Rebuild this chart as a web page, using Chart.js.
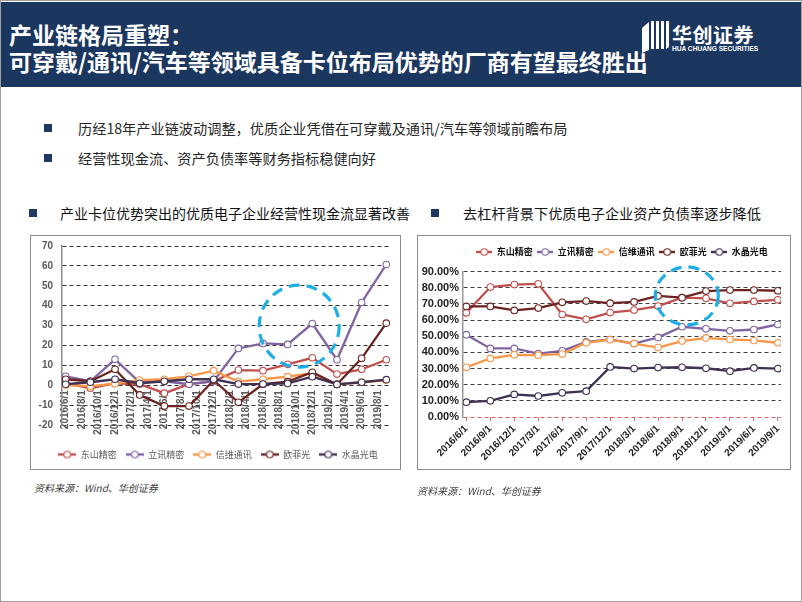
<!DOCTYPE html>
<html><head><meta charset="utf-8">
<script src="https://cdn.jsdelivr.net/npm/chart.js@4.4.1/dist/chart.umd.min.js"></script>
<style>
html,body{margin:0;padding:0;}
body{width:802px;height:602px;position:relative;overflow:hidden;background:#fff;font-family:"Noto Sans CJK SC","Liberation Sans",sans-serif;}
#frame{position:absolute;left:0;top:0;width:800px;height:600px;border:1px solid #a0a0a0;}
#hdr{position:absolute;left:1px;top:2px;width:800px;height:85px;background:#1c375f;}
.ht{position:absolute;left:9px;color:#fff;font-weight:700;font-size:23px;line-height:27px;white-space:nowrap;}
.abs{position:absolute;white-space:nowrap;}
.sq{position:absolute;width:8px;height:8px;background:#1f3864;}
.btxt{position:absolute;left:78px;font-size:14.2px;line-height:20px;color:#262626;white-space:nowrap;}
.ctitle{position:absolute;font-size:14px;line-height:20px;color:#111;white-space:nowrap;}
.box{position:absolute;border:1.5px solid #8c8c8c;box-sizing:border-box;pointer-events:none;}
.src{position:absolute;font-size:10px;line-height:14px;font-style:italic;color:#404040;white-space:nowrap;}
canvas{position:absolute;}
</style></head>
<body>
<div id="frame"></div>
<div id="hdr"></div>
<div class="ht" style="top:21px">产业链格局重塑：</div>
<div class="ht" style="top:48px">可穿戴/通讯/汽车等领域具备卡位布局优势的厂商有望最终胜出</div>
<svg class="abs" style="left:640px;top:20px" width="30" height="34" viewBox="0 0 30 34">
  <g fill="#fff">
    <polygon points="2,8 9,2 9,30 2,33"/>
    <polygon points="11,1 14,1 14,29 11,29"/>
    <polygon points="16,1 19,1 19,29 16,29"/>
    <polygon points="21,1 24,1 24,29 21,29"/>
    <polygon points="26,1 29,1 29,27 26,29"/>
  </g>
</svg>
<div class="abs" style="left:672px;top:23px;color:#fff;font-weight:700;font-size:20px;line-height:24px;letter-spacing:0.5px">华创证券</div>
<div class="abs" style="left:672px;top:45px;color:#fff;font-size:6.6px;line-height:8px;font-family:'Liberation Sans',sans-serif;font-weight:700">HUA CHUANG SECURITIES</div>

<div class="sq" style="left:44px;top:124px"></div>
<div class="btxt" style="top:118px">历经18年产业链波动调整，优质企业凭借在可穿戴及通讯/汽车等领域前瞻布局</div>
<div class="sq" style="left:44px;top:154px"></div>
<div class="btxt" style="top:148px">经营性现金流、资产负债率等财务指标稳健向好</div>

<div class="sq" style="left:29px;top:209px"></div>
<div class="ctitle" style="left:60px;top:203px">产业卡位优势突出的优质电子企业经营性现金流显著改善</div>
<div class="sq" style="left:431px;top:209px"></div>
<div class="ctitle" style="left:463px;top:203px;font-size:14.2px">去杠杆背景下优质电子企业资产负债率逐步降低</div>

<canvas id="c1" width="372" height="232" style="left:32px;top:237px"></canvas>
<div class="box" style="left:30px;top:235px;width:371px;height:235px"></div>
<canvas id="c2" width="370" height="232" style="left:419px;top:237px"></canvas>
<div class="box" style="left:417px;top:235px;width:374px;height:235px"></div>

<div class="src" style="left:34px;top:481px">资料来源：Wind、华创证券</div>
<div class="src" style="left:417px;top:484px">资料来源：Wind、华创证券</div>

<script>
// ---------- data ----------
const seriesNames = ['东山精密', '立讯精密', '信维通讯', '欧菲光', '水晶光电'];
const seriesColors = ['#c0504d', '#8064a2', '#f79646', '#6b2220', '#3f3152'];
const quarterDates = ['2016/6/1','2016/9/1','2016/12/1','2017/3/1','2017/6/1','2017/9/1','2017/12/1',
  '2018/3/1','2018/6/1','2018/9/1','2018/12/1','2019/3/1','2019/6/1','2019/9/1'];

// left chart: operating cash flow
const cfTickLabels = ['2016/6/1','2016/8/1','2016/10/1','2016/12/1','2017/2/1','2017/4/1','2017/6/1',
  '2017/8/1','2017/10/1','2017/12/1','2018/2/1','2018/4/1','2018/6/1','2018/8/1','2018/10/1',
  '2018/12/1','2019/2/1','2019/4/1','2019/6/1','2019/8/1'];
const cfDongshan = [1, -1.5, 1, 0.5, -4, 0.5, 2, 7.6, 7.3, 10.5, 13.8, 5.6, 8, 12.8];
const cfLuxshare = [4.5, 2, 13, 1.5, 2, 0.5, 2, 18.5, 21, 20.5, 31, 12.8, 41.6, 60.7];
const cfSunway = [0, -0.5, 0.8, 2.6, 3, 4.5, 7.3, 1.8, 3, 4.3, 6, 0.5, 1.5, 2.5];
const cfOfilm = [3, 2, 8, -4.9, -10.5, -10.5, 2.5, -8.6, 0.5, 1.8, 6.5, 0.4, 13.5, 31.2];
const cfCrystal = [0.5, 1.5, 3, 1, 2, 3, 3, 0.6, 0.6, 0.9, 4.3, 0.4, 1.5, 2.8];
const cfYTicks = {min: -20, max: 70, step: 10};

// right chart: debt-to-asset ratio (%)
const drDongshan = [64.5, 80.5, 82, 82.5, 63.5, 60.5, 64.7, 66.2, 68.7, 73.9, 73.5, 70.4, 71.6, 72.6];
const drLuxshare = [51, 42.5, 42.5, 39.3, 41, 46.5, 48, 45.5, 49.3, 55.9, 54.6, 53.4, 54.2, 57.3];
const drSunway = [30.8, 36.3, 38.5, 38.3, 39, 46, 47.9, 45.5, 43, 47, 49, 48, 47.4, 46];
const drOfilm = [68.5, 68.5, 66, 67.5, 71, 71.8, 70.5, 71.3, 75, 73.9, 78, 78.6, 78.6, 78.2];
const drCrystal = [9.2, 10, 14, 13, 15, 16, 31, 30, 30.6, 30.8, 30.2, 28.4, 30.4, 30];
const drYTicks = {min: 0, max: 90, step: 10};

// ---------- helpers ----------
function monthIndex(s) { const p = s.split('/').map(Number); return (p[0] - 2016) * 12 + (p[1] - 6); }
function marker(color, w) {
  const c = document.createElement('canvas'); c.width = w; c.height = 10;
  const g = c.getContext('2d');
  g.strokeStyle = color; g.lineWidth = 2.4;
  g.beginPath(); g.moveTo(0, 5); g.lineTo(w, 5); g.stroke();
  g.beginPath(); g.arc(w / 2, 5, 3.3, 0, Math.PI * 2); g.fillStyle = '#fff'; g.fill();
  g.lineWidth = 1.1; g.stroke();
  return c;
}
const ringPlugin = {
  id: 'ring',
  afterDatasetsDraw(chart, args, o) {
    if (!o || o.cx === undefined) return;
    const {ctx, scales} = chart;
    const px = scales.x.getPixelForValue(o.cx), py = scales.y.getPixelForValue(o.cy);
    ctx.save(); ctx.strokeStyle = '#1eaee6'; ctx.lineWidth = 3.2; ctx.setLineDash([11, 7]);
    ctx.beginPath(); ctx.ellipse(px, py, o.rx, o.ry, 0, 0, Math.PI * 2); ctx.stroke(); ctx.restore();
  }
};
const legendGap = {
  id: 'legendGap',
  afterInit(chart, a, o) {
    const lg = chart.legend; if (!lg) return;
    const f = lg.fit;
    lg.fit = function () { f.call(this); this.height += (o && o.extra) || 0; };
  }
};
function makeDatasets(arrs, xs) {
  return arrs.map((arr, i) => ({
    label: seriesNames[i],
    data: arr.map((v, k) => ({x: xs[k], y: v})),
    xAxisID: 'x', yAxisID: 'y',
    borderColor: seriesColors[i], backgroundColor: '#fff',
    borderWidth: 2.3, pointRadius: 3.3, pointBorderWidth: 1.1,
    pointBackgroundColor: '#fff', pointBorderColor: seriesColors[i],
    tension: 0, order: -i
  }));
}
function legendLabels(w, color) {
  return chart => chart.data.datasets.map((ds, i) => ({
    text: ds.label, pointStyle: marker(seriesColors[i], w), fillStyle: '#fff',
    strokeStyle: seriesColors[i], lineWidth: 0, hidden: false, datasetIndex: i, fontColor: color
  }));
}
Chart.defaults.font.family = '"Liberation Sans", "Noto Sans CJK SC", sans-serif';

// ---------- left chart ----------
const cfX = quarterDates.map(monthIndex);
const cfTickMap = {};
cfTickLabels.forEach(l => { cfTickMap[monthIndex(l)] = l; });
new Chart(document.getElementById('c1'), {
  type: 'line',
  data: {datasets: makeDatasets([cfDongshan, cfLuxshare, cfSunway, cfOfilm, cfCrystal], cfX)},
  plugins: [ringPlugin],
  options: {
    responsive: false, animation: false, devicePixelRatio: 1,
    layout: {padding: {left: 0, right: 0, top: 9, bottom: 0}},
    plugins: {
      tooltip: {enabled: false},
      legend: {
        position: 'bottom',
        labels: {usePointStyle: true, pointStyleWidth: 18, padding: 9,
          font: {size: 9, family: '"Noto Sans CJK SC", sans-serif'}, color: '#595959',
          generateLabels: legendLabels(18, '#595959')}
      },
      ring: {cx: 28.4, cy: 29.7, rx: 40, ry: 41}
    },
    scales: {
      x: {
        type: 'linear', min: -0.45, max: 39.45, position: {y: 0},
        afterBuildTicks: sc => { sc.ticks = cfTickLabels.map(l => ({value: monthIndex(l)})); },
        afterFit: sc => { sc.height = 0; sc.paddingTop = 0; sc.paddingBottom = 0; },
        grid: {display: false, drawTicks: false}, border: {display: false},
        ticks: {autoSkip: false, minRotation: 90, maxRotation: 90, padding: 5,
          font: {size: 10, weight: 'bold'}, color: '#595959',
          callback: v => cfTickMap[v] || ''}
      },
      y: {
        min: cfYTicks.min, max: cfYTicks.max,
        afterFit: sc => { sc.width = 30; sc.paddingTop = 0; sc.paddingBottom = 0; },
        grid: {color: '#333', lineWidth: 1, drawTicks: false},
        border: {display: true, color: '#8c8c8c', width: 1.5, dash: [4, 3]},
        ticks: {stepSize: cfYTicks.step, autoSkip: false, padding: 9, font: {size: 10, weight: 'bold'}, color: '#595959'}
      },
      gap: {
        type: 'linear', axis: 'x', position: 'bottom', display: true,
        afterFit: sc => { sc.height = 16; sc.paddingLeft = 0; sc.paddingRight = 0; },
        grid: {display: false, drawTicks: false}, border: {display: false},
        ticks: {display: false}
      },
      gapR: {
        type: 'linear', axis: 'y', position: 'right', display: true,
        afterFit: sc => { sc.width = 14; sc.paddingTop = 0; sc.paddingBottom = 0; },
        grid: {display: false, drawTicks: false}, border: {display: false},
        ticks: {display: false}
      }
    }
  }
});

// ---------- right chart ----------
const drX = quarterDates.map((d, i) => i);
new Chart(document.getElementById('c2'), {
  type: 'line',
  data: {datasets: makeDatasets([drDongshan, drLuxshare, drSunway, drOfilm, drCrystal], drX)},
  plugins: [ringPlugin, legendGap],
  options: {
    responsive: false, animation: false, devicePixelRatio: 1,
    layout: {padding: {left: 0, right: 8, top: 6, bottom: 0}},
    plugins: {
      tooltip: {enabled: false},
      legend: {
        position: 'top', fullSize: false,
        labels: {usePointStyle: true, pointStyleWidth: 16, padding: 4.5,
          font: {size: 9, weight: 'bold', family: '"Noto Sans CJK SC", sans-serif'}, color: '#111',
          generateLabels: legendLabels(16, '#111')}
      },
      legendGap: {extra: 5.2},
      ring: {cx: 9.2, cy: 75, rx: 31.5, ry: 29}
    },
    scales: {
      x: {
        type: 'linear', min: -0.14, max: 13.13, position: 'bottom',
        afterBuildTicks: sc => { sc.ticks = quarterDates.map((d, i) => ({value: i})); },
        afterFit: sc => { sc.height = 52; },
        grid: {display: true, drawOnChartArea: false, drawTicks: true, tickLength: 4, color: '#e07070'},
        border: {display: false},
        ticks: {autoSkip: false, minRotation: 45, maxRotation: 45, padding: 2,
          font: {size: 10, weight: 'bold'}, color: '#222',
          callback: v => quarterDates[v] || ''}
      },
      y: {
        min: drYTicks.min, max: drYTicks.max,
        afterFit: sc => { sc.width = 44; },
        grid: {color: c => c.tick.value === 0 ? '#e06060' : '#404040', lineWidth: 1, drawTicks: false},
        border: {display: true, color: '#9a9a9a', width: 1.5, dash: [4, 3]},
        ticks: {stepSize: drYTicks.step, autoSkip: false, padding: 4, font: {size: 11, weight: 'bold'}, color: '#222',
          callback: v => v.toFixed(2) + '%'}
      }
    }
  }
});
</script>
</body></html>
